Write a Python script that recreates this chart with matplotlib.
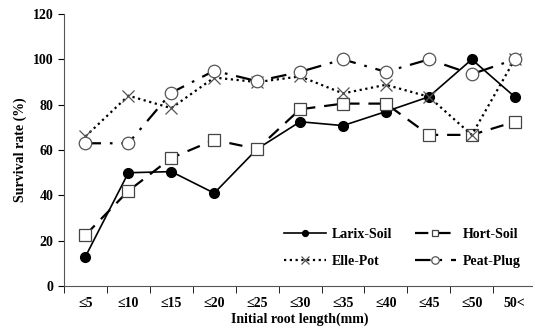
import matplotlib.pyplot as plt
import numpy as np

categories = ['≤5', '≤10', '≤15', '≤20', '≤25', '≤30', '≤35', '≤40', '≤45', '≤50', '50<']
larix_soil = [13, 50, 50.5, 41, 60.5, 72.5, 70.8, 77, 83.5, 100, 83.5]
hort_soil = [22.5, 42, 56.5, 64.5, 60.5, 78, 80.5, 80.5, 66.7, 66.7, 72.5]
elle_pot = [66, 84, 78.5, 92, 90, 92.5, 85, 88.8, 83.5, 66.7, 100]
peat_plug = [63, 63, 85.3, 95, 90.4, 94.5, 100, 94.5, 100, 93.5, 100]

plt.rcParams['font.family'] = ['Liberation Serif', 'DejaVu Serif']
plt.rcParams['font.weight'] = 'bold'

fig = plt.figure(figsize=(5.33, 3.35), dpi=100)
ax = fig.add_axes([0.12, 0.146, 0.886, 0.812])

x = np.arange(len(categories))
l1, = ax.plot(x, larix_soil, color='black', lw=1.2, marker='o', ms=7,
              mfc='black', mec='black', label='Larix-Soil')
l2, = ax.plot(x, hort_soil, color='black', lw=1.6, ls=(0, (6, 4)), marker='s', ms=8,
              mfc='white', mec='#444444', mew=0.9, label='Hort-Soil')
l3, = ax.plot(x, elle_pot, color='black', lw=1.6, ls=(0, (1, 1.6)), marker='x', ms=9,
              mec='#555555', mew=0.9, label='Elle-Pot')
l4, = ax.plot(x, peat_plug, color='black', lw=1.6, ls=(0, (7, 4, 1.2, 4)), marker='o', ms=9,
              mfc='white', mec='#555555', mew=0.9, label='Peat-Plug')

ax.set_xlim(-0.5, len(categories) - 0.5)
ax.set_ylim(0, 120)
ax.set_yticks(range(0, 121, 20))
ax.set_xticks(x)
ax.set_xticklabels(categories)
ax.set_xticks(np.arange(-0.5, len(categories), 1), minor=True)
ax.tick_params(axis='x', which='major', length=0, pad=8)
ax.tick_params(axis='x', which='minor', length=5, direction='out')
ax.tick_params(axis='y', length=4, direction='out')
ax.tick_params(labelsize=10)
for lab in ax.get_xticklabels() + ax.get_yticklabels():
    lab.set_fontweight('bold')

ax.spines['top'].set_visible(False)
ax.spines['right'].set_visible(False)
for s in ['left', 'bottom']:
    ax.spines[s].set_color('#555555')

ax.set_ylabel('Survival rate (%)', fontsize=10, fontweight='bold')
ax.set_xlabel('Initial root length(mm)', fontsize=10, fontweight='bold', labelpad=2)

# legend fills column-wise, so order gives rows Larix/Hort and Elle/Peat
ax.legend(handles=[l1, l3, l2, l4], loc='lower right', bbox_to_anchor=(0.993, 0.02),
          ncol=2, frameon=False, fontsize=10, handlelength=3.0, handletextpad=0.45,
          columnspacing=1.6, labelspacing=1.05, markerscale=0.6)

fig.savefig('out.png', dpi=100)
